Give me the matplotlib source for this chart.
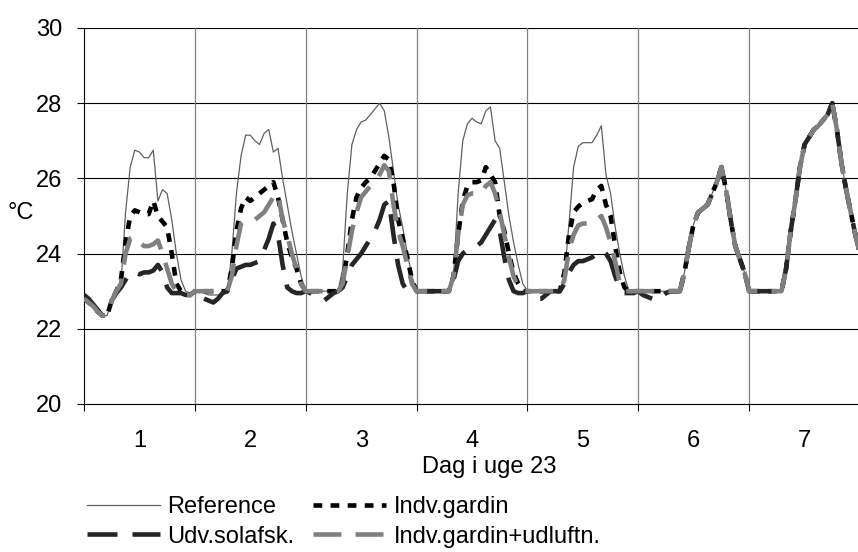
import matplotlib
matplotlib.use("Agg")
import matplotlib.pyplot as plt
import numpy as np

plt.rcParams['font.family'] = ['Liberation Sans', 'DejaVu Sans']

# Hourly temperatures (°C), week 23, days 1..7 (24 values per day) + final point
reference = (
    [22.8, 22.7, 22.6, 22.45, 22.35, 22.35, 22.75, 23.0, 23.2, 25.1, 26.3, 26.75,
     26.7, 26.55, 26.55, 26.75, 25.4, 25.7, 25.6, 24.9, 24.0, 23.3, 23.0, 22.95] +
    [23.0, 23.0, 22.95, 22.9, 22.9, 22.9, 22.95, 23.0, 24.0, 25.6, 26.6, 27.15,
     27.15, 27.0, 26.9, 27.2, 27.3, 26.7, 26.8, 26.0, 25.3, 24.6, 24.0, 23.4] +
    [23.0, 23.0, 23.0, 23.0, 23.0, 23.0, 23.0, 23.0, 23.6, 25.6, 26.9, 27.3,
     27.5, 27.55, 27.7, 27.85, 28.0, 27.8, 27.1, 26.2, 25.3, 24.7, 24.0, 23.4] +
    [23.0, 23.0, 23.0, 23.0, 23.0, 23.0, 23.0, 23.0, 23.4, 25.6, 27.0, 27.45,
     27.6, 27.5, 27.45, 27.8, 27.9, 27.0, 26.8, 25.9, 25.0, 24.3, 23.7, 23.2] +
    [23.0, 23.0, 23.0, 23.0, 23.0, 23.0, 23.0, 23.0, 23.4, 24.8, 26.3, 26.85,
     26.95, 26.95, 26.95, 27.15, 27.4, 26.1, 25.6, 24.7, 24.0, 23.4, 23.0, 23.0] +
    [23.0, 23.0, 23.0, 23.0, 23.0, 23.0, 23.0, 23.0, 23.0, 23.0, 23.5, 24.2,
     24.8, 25.1, 25.2, 25.3, 25.6, 25.9, 26.3, 25.7, 24.9, 24.2, 23.85, 23.5] +
    [23.0, 23.0, 23.0, 23.0, 23.0, 23.0, 23.0, 23.0, 23.6, 24.6, 25.4, 26.3,
     26.9, 27.1, 27.3, 27.4, 27.55, 27.7, 28.0, 27.3, 26.4, 25.7, 25.1, 24.5] +
    [24.0]
)

indv_gardin = (
    [22.8, 22.7, 22.6, 22.45, 22.35, 22.35, 22.75, 23.0, 23.3, 24.3, 25.0, 25.15,
     25.1, 25.05, 25.05, 25.4, 25.0, 24.85, 24.7, 24.0, 23.2, 23.0, 22.95, 22.9] +
    [23.0, 23.0, 23.0, 23.0, 23.0, 23.0, 23.0, 23.0, 23.6, 24.6, 25.2, 25.5,
     25.4, 25.5, 25.6, 25.7, 25.8, 25.9, 25.5, 24.9, 24.3, 23.9, 23.6, 23.2] +
    [23.0, 23.0, 23.0, 23.0, 23.0, 23.0, 23.0, 23.0, 23.2, 24.0, 24.9, 25.5,
     25.75, 25.9, 26.0, 26.2, 26.4, 26.6, 26.5, 25.9, 24.9, 24.4, 23.9, 23.3] +
    [23.0, 23.0, 23.0, 23.0, 23.0, 23.0, 23.0, 23.0, 23.4, 24.5, 25.4, 25.8,
     25.9, 25.9, 25.95, 26.3, 26.1, 25.9, 25.0, 24.6, 24.0, 23.5, 23.2, 23.0] +
    [23.0, 23.0, 23.0, 23.0, 23.0, 23.0, 23.0, 23.0, 23.5, 24.5, 25.1, 25.25,
     25.35, 25.4, 25.45, 25.7, 25.8, 25.3, 25.0, 24.2, 23.5, 23.1, 23.0, 23.0] +
    [23.0, 23.0, 23.0, 23.0, 23.0, 23.0, 23.0, 23.0, 23.0, 23.0, 23.5, 24.2,
     24.8, 25.1, 25.2, 25.3, 25.6, 25.9, 26.3, 25.7, 24.9, 24.2, 23.85, 23.5] +
    [23.0, 23.0, 23.0, 23.0, 23.0, 23.0, 23.0, 23.0, 23.6, 24.6, 25.4, 26.3,
     26.9, 27.1, 27.3, 27.4, 27.55, 27.7, 28.0, 27.3, 26.4, 25.7, 25.1, 24.5] +
    [24.0]
)

udv_solafsk = (
    [22.9, 22.8, 22.65, 22.5, 22.35, 22.35, 22.75, 22.95, 23.1, 23.3, 23.5, 23.5,
     23.45, 23.5, 23.5, 23.55, 23.7, 23.5, 23.1, 22.95, 22.95, 22.95, 22.9, 22.9] +
    [22.95, 22.85, 22.8, 22.75, 22.7, 22.8, 22.95, 23.0, 23.3, 23.6, 23.65, 23.7,
     23.7, 23.75, 23.8, 24.1, 24.4, 24.8, 24.5, 23.7, 23.1, 23.0, 22.95, 22.95] +
    [23.0, 22.95, 22.85, 22.8, 22.75, 22.85, 22.95, 23.0, 23.1, 23.4, 23.7, 23.85,
     24.0, 24.2, 24.4, 24.6, 24.9, 25.3, 25.4, 24.5, 23.7, 23.2, 23.0, 22.95] +
    [23.0, 23.0, 23.0, 23.0, 23.0, 23.0, 23.0, 23.0, 23.3, 23.8, 24.0, 24.1,
     24.15, 24.2, 24.3, 24.5, 24.7, 24.9, 24.6, 23.9, 23.3, 23.0, 22.95, 22.95] +
    [23.0, 22.95, 22.8, 22.8, 22.9, 23.0, 23.0, 23.0, 23.2, 23.5, 23.7, 23.8,
     23.8, 23.85, 23.9, 24.0, 24.1, 24.0, 23.8, 23.4, 23.05, 22.95, 22.95, 22.95] +
    [23.0, 22.9, 22.85, 22.8, 22.75, 22.85, 22.95, 23.0, 23.0, 23.0, 23.5, 24.2,
     24.8, 25.1, 25.2, 25.3, 25.6, 25.9, 26.3, 25.7, 24.9, 24.2, 23.85, 23.5] +
    [23.0, 23.0, 23.0, 23.0, 23.0, 23.0, 23.0, 23.0, 23.6, 24.6, 25.4, 26.3,
     26.9, 27.1, 27.3, 27.4, 27.55, 27.7, 28.0, 27.3, 26.4, 25.7, 25.1, 24.5] +
    [24.0]
)

indv_gardin_udluftn = (
    [22.8, 22.7, 22.6, 22.45, 22.35, 22.35, 22.75, 23.0, 23.2, 24.0, 24.4, 24.45,
     24.3, 24.2, 24.2, 24.25, 24.35, 24.0, 23.6, 23.2, 23.0, 22.95, 22.9, 22.9] +
    [23.0, 23.0, 23.0, 23.0, 23.0, 23.0, 23.0, 23.0, 23.4, 24.2, 24.8, 24.9,
     24.9, 24.9, 25.0, 25.1, 25.3, 25.5, 25.6, 24.9, 24.5, 24.0, 23.6, 23.2] +
    [23.0, 23.0, 23.0, 23.0, 23.0, 23.0, 23.0, 23.0, 23.2, 23.9, 24.6, 25.1,
     25.5, 25.65, 25.8, 25.9, 26.1, 26.35, 26.2, 25.3, 24.6, 24.2, 23.7, 23.2] +
    [23.0, 23.0, 23.0, 23.0, 23.0, 23.0, 23.0, 23.0, 23.4, 24.5, 25.3, 25.55,
     25.6, 25.6, 25.6, 25.8, 25.9, 25.6, 25.1, 24.5, 23.9, 23.4, 23.1, 23.0] +
    [23.0, 23.0, 23.0, 23.0, 23.0, 23.0, 23.0, 23.0, 23.3, 24.1, 24.5, 24.75,
     24.8, 24.8, 24.8, 24.9, 25.0, 24.7, 24.3, 23.8, 23.2, 23.0, 23.0, 23.0] +
    [23.0, 23.0, 23.0, 23.0, 23.0, 23.0, 23.0, 23.0, 23.0, 23.0, 23.5, 24.2,
     24.8, 25.1, 25.2, 25.3, 25.6, 25.9, 26.3, 25.7, 24.9, 24.2, 23.85, 23.5] +
    [23.0, 23.0, 23.0, 23.0, 23.0, 23.0, 23.0, 23.0, 23.6, 24.6, 25.4, 26.3,
     26.9, 27.1, 27.3, 27.4, 27.55, 27.7, 28.0, 27.3, 26.4, 25.7, 25.1, 24.5] +
    [24.0]
)

day_labels = ['1', '2', '3', '4', '5', '6', '7']
y_ticks = [20, 22, 24, 26, 28, 30]
series_names = ['Reference', 'Indv.gardin', 'Udv.solafsk.', 'Indv.gardin+udluftn.']

hours = np.arange(len(reference))
x = hours / 24.0

W, H = 858, 552
fig = plt.figure(figsize=(W / 100, H / 100), dpi=100)
ax = fig.add_axes([84 / W, 1 - 404 / H, (860 - 84) / W, (404 - 28) / H])

FS = 17
LW = 3.3
k = 3.0 / LW

l_ref, = ax.plot(x, reference, color='#606060', lw=0.9, solid_joinstyle='round', zorder=3)
l_gar, = ax.plot(x, indv_gardin, color='#000000', lw=LW, dashes=(2.1 * k, 2.0 * k), zorder=4)
l_udv, = ax.plot(x, udv_solafsk, color='#262626', lw=LW, dashes=(7.2 * k, 3.6 * k), zorder=5)
l_gra, = ax.plot(x, indv_gardin_udluftn, color='#808080', lw=LW, dashes=(6.7 * k, 3.4 * k), zorder=6)

ax.set_xlim(0, 7)
ax.set_ylim(20, 30)

ax.set_yticks(y_ticks)
ax.set_yticklabels([str(v) for v in y_ticks], fontsize=FS)
ax.tick_params(axis='y', direction='out', length=5, width=0.8, pad=10.5, color='black')

ax.set_xticks(np.arange(0, 8))
ax.set_xticklabels([])
ax.set_xticks(np.arange(0.5, 7), minor=True)
ax.set_xticklabels(day_labels, minor=True, fontsize=FS)
ax.tick_params(axis='x', which='major', direction='out', length=5, width=0.8, color='black')
ax.tick_params(axis='x', which='minor', length=0, pad=18.5)

for v in [22, 24, 26, 28, 30]:
    ax.axhline(v, color='black', lw=0.8, zorder=1)
for d in range(1, 8):
    ax.axvline(d, color='#808080', lw=0.9, zorder=1)

for s in ['top', 'right']:
    ax.spines[s].set_visible(False)
ax.spines['left'].set_color('black')
ax.spines['bottom'].set_color('black')
ax.spines['left'].set_linewidth(0.8)
ax.spines['bottom'].set_linewidth(0.8)

ax.set_xlabel('Dag i uge 23', fontsize=FS)
ax.xaxis.set_label_coords((489 - 84) / (860 - 84), (404 - 467) / (404 - 28))
ax.xaxis.label.set_va('center')

fig.text(21 / W, 1 - 213 / H, '°C', fontsize=FS, ha='center', va='center')

leg = fig.legend([l_ref, l_udv, l_gar, l_gra],
                 [series_names[0], series_names[2], series_names[1], series_names[3]],
                 ncol=2, loc='upper left', bbox_to_anchor=(87 / W, 1 - 496 / H),
                 frameon=False, fontsize=FS, handlelength=3.1, handletextpad=0.3,
                 columnspacing=0.8, labelspacing=0.32, borderpad=0, borderaxespad=0)

fig.savefig('out.png', dpi=100)
